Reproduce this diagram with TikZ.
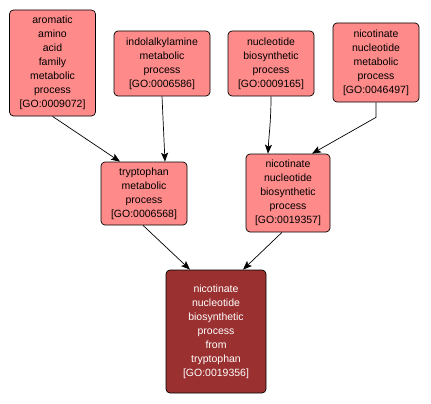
\documentclass[tikz,border=0pt]{standalone}
\usepackage{fontspec}
\setmainfont{Liberation Sans}
\usetikzlibrary{arrows.meta}
\definecolor{gopink}{HTML}{FF8A8A}
\definecolor{godark}{HTML}{9B3030}
\begin{document}
\begin{tikzpicture}[x=1pt,y=-1pt,
  gobox/.style={draw=black,line width=0.7pt,rounded corners=4pt,fill=gopink,
    align=center,inner sep=0pt,font=\fontsize{10.5}{14}\selectfont},
  gofinal/.style={gobox,fill=godark,text=white},
  goedge/.style={draw=black,line width=0.7pt,-{Stealth[length=9pt,width=7pt,inset=2pt]}}]
\useasboundingbox (0,0) rectangle (431,404);
\node[gobox,minimum width=86pt,minimum height=106pt] (A) at (52.5,63) {aromatic\\amino\\acid\\family\\metabolic\\process\\{[GO:0009072]}};
\node[gobox,minimum width=96pt,minimum height=65pt] (B) at (162,63.5) {indolalkylamine\\metabolic\\process\\{[GO:0006586]}};
\node[gobox,minimum width=86pt,minimum height=65pt] (C) at (271,63.5) {nucleotide\\biosynthetic\\process\\{[GO:0009165]}};
\node[gobox,minimum width=86pt,minimum height=79pt] (D) at (376,62.5) {nicotinate\\nucleotide\\metabolic\\process\\{[GO:0046497]}};
\node[gobox,minimum width=86pt,minimum height=63pt] (E) at (144,193.5) {tryptophan\\metabolic\\process\\{[GO:0006568]}};
\node[gobox,minimum width=84pt,minimum height=78pt] (F) at (288,193) {nicotinate\\nucleotide\\biosynthetic\\process\\{[GO:0019357]}};
\node[gofinal,minimum width=100pt,minimum height=123pt] (G) at (216,331.5) {nicotinate\\nucleotide\\biosynthetic\\process\\from\\tryptophan\\{[GO:0019356]}};
\draw[goedge] (A.south) -- ([xshift=-24pt]E.north);
\draw[goedge] (B.south) -- ([xshift=21pt]E.north);
\draw[goedge] (C.south) .. controls ([yshift=-25pt]C.south) and ([xshift=-19pt,yshift=20pt]F.north) .. ([xshift=-20pt]F.north);
\draw[goedge] (D.south) -- ([yshift=-15pt]D.south) -- ([xshift=24pt]F.north);
\draw[goedge] ([xshift=-1pt]E.south) -- ([xshift=-26pt]G.north);
\draw[goedge] ([xshift=-6pt]F.south) -- ([xshift=27pt]G.north);
\end{tikzpicture}
\end{document}
